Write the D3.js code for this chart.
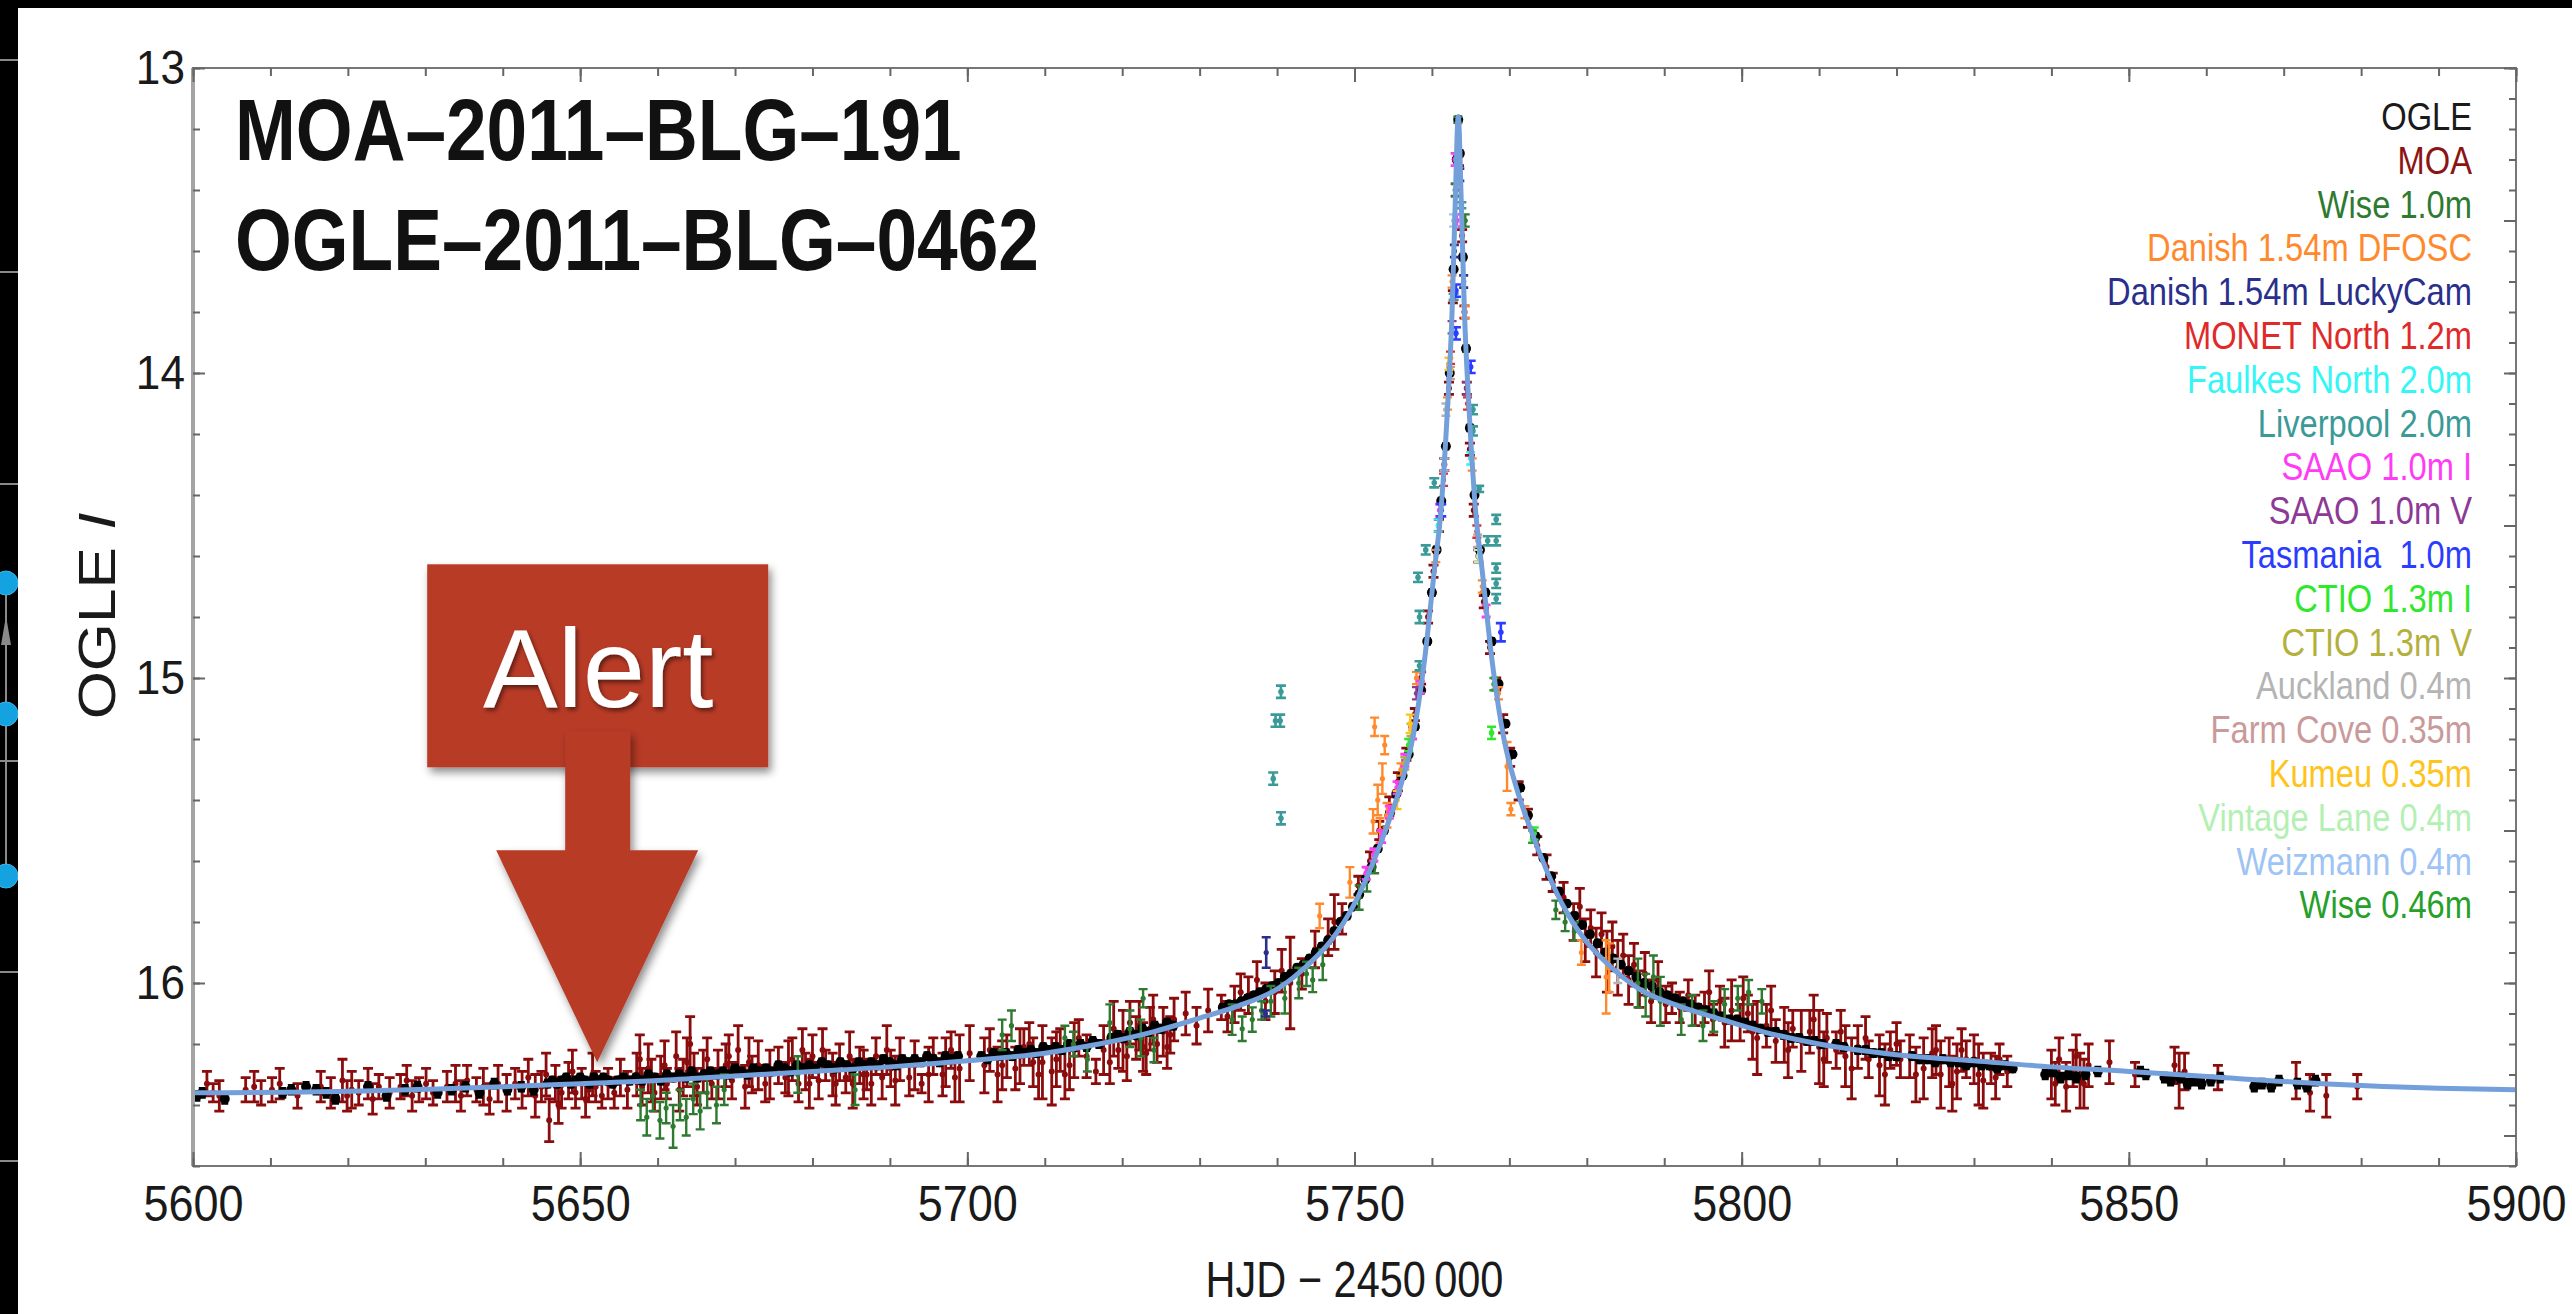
<!DOCTYPE html>
<html>
<head>
<meta charset="utf-8">
<style>
  body { margin: 0; background: #fff; }
  svg text { font-family: "Liberation Sans", Arial, sans-serif; }
</style>
</head>
<body>
<script src="https://cdnjs.cloudflare.com/ajax/libs/d3/7.8.5/d3.min.js"></script>
<script>
// ---- chart values ----
const xDomain = [5600, 5900];
const yDomain = [13, 16.6];
const xMajorTicks = [5600, 5650, 5700, 5750, 5800, 5850, 5900];
const yMajorTicks = [13, 14, 15, 16];
const titleLines = ["MOA\u20132011\u2013BLG\u2013191", "OGLE\u20132011\u2013BLG\u20130462"];
const xLabel = "HJD \u2212 2450\u2009000";

const legendNames = ["OGLE", "MOA", "Wise 1.0m", "Danish 1.54m DFOSC", "Danish 1.54m LuckyCam",
  "MONET North 1.2m", "Faulkes North 2.0m", "Liverpool 2.0m", "SAAO 1.0m I", "SAAO 1.0m V",
  "Tasmania  1.0m", "CTIO 1.3m I", "CTIO 1.3m V", "Auckland 0.4m", "Farm Cove 0.35m",
  "Kumeu 0.35m", "Vintage Lane 0.4m", "Weizmann 0.4m", "Wise 0.46m"];
const legendColors = ["#1a1a1a", "#8b1414", "#2f7a31", "#ff8a2e", "#2a2f8c",
  "#e02a2a", "#33f6f6", "#3a9a98", "#ff3cf5", "#8c3a96",
  "#2a3cff", "#2ee82e", "#b4b03c", "#b4b4b4", "#c99a9a",
  "#ffc41c", "#b4f0b4", "#9ec3f5", "#26a028"];

// alert annotation points at this (HJD, mag)
const alertPoint = [5652.2, 16.26];

// best-fit model, [HJD, mag]
const model = [[5600,16.360],[5620,16.355],[5640,16.340],[5650,16.330],[5660,16.320],[5670,16.305],
  [5680,16.290],[5690,16.275],[5700,16.255],[5710,16.230],[5717,16.200],[5724,16.160],[5730,16.115],
  [5735,16.075],[5740,16.020],[5744,15.940],[5747,15.860],[5750,15.740],[5752,15.630],[5754,15.500],
  [5756,15.350],[5757.5,15.200],[5759,14.950],[5760.3,14.650],[5761.2,14.440],[5762,14.120],
  [5762.6,13.800],[5763.0,13.450],[5763.4,13.160],[5763.8,13.450],[5764.2,13.800],[5764.8,14.120],
  [5765.6,14.440],[5766.5,14.650],[5767.8,14.950],[5769.3,15.200],[5770.8,15.350],[5772.8,15.500],
  [5774.8,15.630],[5776.8,15.740],[5779.8,15.860],[5782.8,15.940],[5786.8,16.020],[5791.8,16.075],
  [5796.8,16.115],[5802.8,16.160],[5810,16.200],[5820,16.235],[5830,16.255],[5840,16.275],
  [5850,16.290],[5862,16.310],[5875,16.330],[5890,16.345],[5900,16.350]];

// photometry, [HJD, mag, error]
const ogle = [[5600.5,16.37,.015],[5601.2,16.36,.015],[5604.1,16.38,.015],[5611.6,16.36,.015],[5612.7,16.35,.015],
  [5614.6,16.34,.015],[5615.9,16.35,.015],[5617.2,16.36,.015],[5618.4,16.38,.015],[5622.6,16.34,.015],
  [5625.0,16.37,.015],[5627.4,16.35,.015],[5629.0,16.34,.015],[5631.6,16.36,.015],[5633.4,16.35,.015],
  [5635.2,16.34,.015],[5637.0,16.36,.015],[5638.9,16.33,.015],[5640.6,16.35,.015],[5642.4,16.34,.015],
  [5644.0,16.35,.015],[5645.8,16.33,.012],[5646.4,16.32,.012],[5647.0,16.33,.012],[5647.6,16.32,.012],
  [5648.2,16.31,.012],[5648.8,16.33,.012],[5649.4,16.32,.012],[5650.0,16.31,.012],[5650.6,16.32,.012],
  [5651.2,16.33,.012],[5651.8,16.31,.012],[5652.4,16.32,.012],[5653.0,16.31,.012],[5653.6,16.32,.012],
  [5654.2,16.33,.012],[5654.8,16.32,.012],[5655.6,16.31,.012],[5656.4,16.32,.012],[5657.2,16.31,.012],
  [5658.0,16.32,.012],[5658.8,16.30,.012],[5659.6,16.31,.012],[5660.4,16.32,.012],[5661.2,16.30,.012],
  [5662.0,16.31,.012],[5662.8,16.30,.012],[5663.6,16.31,.012],[5664.4,16.29,.012],[5665.2,16.31,.012],
  [5666.0,16.30,.012],[5666.8,16.29,.012],[5667.6,16.30,.012],[5668.4,16.29,.012],[5669.2,16.30,.012],
  [5670.0,16.28,.012],[5670.8,16.29,.012],[5671.6,16.30,.012],[5672.4,16.28,.012],[5673.2,16.29,.012],
  [5674.0,16.28,.012],[5674.8,16.29,.012],[5675.6,16.27,.012],[5676.4,16.28,.012],[5677.2,16.29,.012],
  [5678.0,16.27,.012],[5678.8,16.28,.012],[5679.6,16.27,.012],[5680.4,16.28,.012],[5681.2,16.26,.012],
  [5682.0,16.27,.012],[5682.8,16.28,.012],[5683.6,16.26,.012],[5684.4,16.27,.012],[5685.2,16.28,.012],
  [5686.0,16.26,.012],[5686.8,16.27,.012],[5687.6,16.26,.012],[5688.4,16.27,.012],[5689.2,16.25,.012],
  [5690.0,16.26,.012],[5690.8,16.27,.012],[5691.6,16.25,.012],[5692.4,16.26,.012],[5693.2,16.25,.012],
  [5694.0,16.26,.012],[5694.8,16.24,.012],[5695.6,16.25,.012],[5696.4,16.26,.012],[5697.2,16.24,.012],
  [5698.0,16.25,.012],[5698.8,16.24,.012],[5701.8,16.24,.012],[5702.6,16.25,.012],[5703.4,16.23,.012],
  [5704.2,16.24,.012],[5705.0,16.23,.012],[5705.8,16.24,.012],[5706.6,16.22,.012],[5707.4,16.23,.012],
  [5708.2,16.22,.012],[5709.0,16.23,.012],[5709.8,16.21,.012],[5710.6,16.22,.012],[5711.4,16.21,.012],
  [5712.2,16.22,.012],[5713.0,16.20,.012],[5713.8,16.21,.012],[5714.6,16.20,.012],[5715.4,16.21,.012],
  [5716.2,16.19,.012],[5717.0,16.20,.012],[5718.6,16.18,.012],[5719.4,16.17,.012],[5720.2,16.18,.012],
  [5721.0,16.16,.012],[5721.8,16.17,.012],[5722.6,16.15,.012],[5723.4,16.16,.012],[5724.2,16.14,.012],
  [5725.0,16.15,.012],[5725.8,16.13,.012],[5726.6,16.14,.012],[5733.0,16.08,.01],[5733.8,16.07,.01],
  [5734.6,16.07,.01],[5735.4,16.06,.01],[5736.2,16.05,.01],[5737.0,16.04,.01],[5737.8,16.03,.01],
  [5738.6,16.02,.01],[5739.4,16.01,.01],[5740.2,16.00,.01],[5741.0,15.98,.01],[5741.8,15.97,.01],
  [5742.6,15.95,.01],[5743.4,15.94,.01],[5744.2,15.92,.01],[5745.0,15.90,.01],[5745.8,15.88,.01],
  [5746.6,15.86,.01],[5747.4,15.83,.01],[5748.2,15.80,.01],[5749.0,15.78,.01],[5749.8,15.75,.01],
  [5750.6,15.71,.01],[5751.4,15.66,.01],[5752.2,15.62,.01],[5753.0,15.56,.01],[5753.8,15.50,.01],
  [5754.6,15.44,.01],[5755.4,15.38,.01],[5756.2,15.32,.01],[5757.0,15.25,.01],[5757.8,15.16,.01],
  [5758.6,15.04,.01],[5759.4,14.88,.01],[5760.0,14.72,.01],[5760.6,14.58,.01],[5761.2,14.42,.01],
  [5761.8,14.24,.01],[5762.3,14.00,.01],[5762.8,13.66,.01],[5763.2,13.30,.01],[5763.4,13.17,.01],
  [5763.6,13.28,.01],[5764.0,13.62,.01],[5764.4,13.92,.01],[5764.9,14.18,.01],[5765.5,14.40,.01],
  [5766.2,14.58,.01],[5766.9,14.72,.01],[5767.7,14.88,.01],[5768.6,15.02,.01],[5769.5,15.15,.01],
  [5770.4,15.25,.01],[5771.4,15.36,.01],[5772.4,15.45,.01],[5773.4,15.52,.01],[5774.4,15.59,.01],
  [5775.4,15.65,.01],[5776.4,15.70,.01],[5777.4,15.74,.01],[5778.4,15.78,.01],[5779.4,15.81,.01],
  [5780.4,15.84,.01],[5781.4,15.87,.01],[5782.4,15.90,.01],[5783.4,15.92,.01],[5784.4,15.94,.01],
  [5785.4,15.96,.01],[5786.4,15.98,.01],[5787.4,16.00,.01],[5788.4,16.01,.01],[5789.4,16.03,.01],
  [5790.4,16.04,.01],[5791.4,16.05,.01],[5792.4,16.06,.01],[5793.4,16.07,.01],[5794.4,16.08,.01],
  [5795.4,16.09,.012],[5796.4,16.10,.012],[5797.4,16.11,.012],[5798.4,16.12,.012],[5799.4,16.12,.012],
  [5800.4,16.13,.012],[5801.4,16.14,.012],[5802.4,16.15,.012],[5803.4,16.16,.012],[5804.4,16.16,.012],
  [5805.4,16.17,.012],[5806.4,16.18,.012],[5807.4,16.18,.012],[5808.4,16.19,.012],[5809.4,16.19,.012],
  [5810.4,16.20,.012],[5812.2,16.20,.012],[5813.2,16.21,.012],[5815.0,16.22,.012],[5816.0,16.22,.012],
  [5817.0,16.23,.012],[5818.0,16.23,.012],[5819.0,16.24,.012],[5820.0,16.24,.012],[5822.0,16.24,.012],
  [5823.0,16.25,.012],[5824.0,16.25,.012],[5825.0,16.26,.012],[5826.0,16.25,.012],[5827.0,16.26,.012],
  [5828.0,16.26,.012],[5829.0,16.27,.012],[5830.0,16.26,.012],[5831.0,16.27,.012],[5832.0,16.27,.012],
  [5833.0,16.28,.012],[5834.0,16.27,.012],[5835.0,16.28,.012],[5839.2,16.30,.015],[5840.2,16.29,.015],
  [5841.2,16.31,.015],[5842.2,16.30,.015],[5843.2,16.31,.015],[5844.4,16.30,.015],[5846.0,16.29,.015],
  [5851.5,16.29,.015],[5852.2,16.30,.015],[5854.6,16.31,.015],[5855.4,16.32,.015],[5856.6,16.31,.015],
  [5857.6,16.33,.015],[5858.6,16.32,.015],[5859.4,16.33,.015],[5860.6,16.32,.015],[5861.8,16.31,.015],
  [5866.2,16.34,.015],[5867.2,16.33,.015],[5868.4,16.34,.015],[5869.4,16.32,.015],[5871.8,16.33,.015],
  [5873.0,16.34,.015],[5874.1,16.32,.015]];

const moa = [[5601.8,16.33,0.04],[5602.6,16.36,0.03],[5603.4,16.37,0.05],[5606.8,16.35,0.04],[5607.9,16.34,0.05],
  [5608.8,16.36,0.04],[5610.2,16.35,0.04],[5611.2,16.33,0.05],[5613.5,16.37,0.04],[5616.5,16.34,0.05],
  [5617.8,16.36,0.05],[5619.3,16.32,0.07],[5619.9,16.37,0.05],[5620.5,16.35,0.06],[5621.4,16.36,0.04],
  [5622.6,16.33,0.05],[5623.2,16.38,0.05],[5624.0,16.34,0.04],[5625.4,16.36,0.05],[5626.8,16.34,0.04],
  [5627.6,16.32,0.05],[5628.3,16.37,0.05],[5629.2,16.35,0.04],[5630.1,16.33,0.05],[5631.0,16.36,0.04],
  [5632.8,16.34,0.05],[5633.9,16.33,0.06],[5634.6,16.37,0.05],[5635.4,16.32,0.05],[5636.6,16.35,0.04],
  [5637.5,16.34,0.06],[5638.3,16.38,0.05],[5639.4,16.33,0.06],[5640.5,16.36,0.06],[5641.6,16.33,0.05],
  [5642.5,16.35,0.06],[5643.3,16.31,0.06],[5644.2,16.37,0.07],[5645.0,16.34,0.05],[5645.6,16.30,0.07],
  [5646.0,16.45,0.07],[5646.8,16.33,0.06],[5647.2,16.40,0.06],[5647.6,16.36,0.05],[5648.5,16.32,0.06],
  [5649.0,16.29,0.07],[5649.4,16.36,0.05],[5650.2,16.33,0.05],[5650.7,16.38,0.06],[5651.1,16.35,0.04],
  [5651.6,16.30,0.07],[5652.0,16.34,0.05],[5652.8,16.37,0.04],[5653.6,16.33,0.05],[5654.4,16.36,0.05],
  [5655.2,16.31,0.06],[5656.1,16.35,0.06],[5657.3,16.30,0.07],[5657.7,16.25,0.08],[5658.0,16.34,0.06],
  [5658.8,16.28,0.08],[5659.2,16.32,0.07],[5659.6,16.36,0.06],[5660.4,16.31,0.07],[5660.9,16.27,0.08],
  [5661.2,16.33,0.05],[5662.4,16.24,0.08],[5662.8,16.35,0.07],[5663.3,16.31,0.06],[5663.8,16.26,0.08],
  [5664.2,16.20,0.09],[5664.7,16.30,0.07],[5665.1,16.34,0.06],[5665.9,16.29,0.07],[5666.4,16.25,0.07],
  [5667.0,16.33,0.05],[5667.8,16.30,0.08],[5668.8,16.27,0.07],[5669.2,16.24,0.07],[5669.6,16.32,0.06],
  [5670.4,16.22,0.08],[5671.3,16.34,0.07],[5671.8,16.26,0.08],[5672.2,16.30,0.06],[5673.0,16.27,0.08],
  [5673.9,16.33,0.06],[5674.5,16.30,0.08],[5675.6,16.27,0.06],[5676.5,16.31,0.05],[5676.9,16.28,0.09],
  [5677.4,16.25,0.07],[5678.2,16.33,0.06],[5678.7,16.22,0.07],[5679.1,16.29,0.06],[5679.6,16.33,0.08],
  [5680.0,16.24,0.07],[5680.8,16.32,0.06],[5681.3,16.22,0.07],[5681.7,16.27,0.05],[5682.6,16.30,0.07],
  [5683.0,16.33,0.07],[5683.5,16.26,0.06],[5684.3,16.31,0.05],[5684.8,16.24,0.08],[5685.2,16.33,0.08],
  [5686.1,16.27,0.06],[5686.6,16.30,0.08],[5687.0,16.30,0.05],[5687.6,16.33,0.07],[5688.2,16.24,0.06],
  [5689.0,16.31,0.07],[5689.6,16.22,0.08],[5690.1,16.28,0.06],[5690.7,16.32,0.08],[5691.3,16.25,0.07],
  [5692.5,16.31,0.06],[5693.2,16.27,0.08],[5694.1,16.33,0.03],[5695.0,16.30,0.09],[5695.6,16.24,0.06],
  [5696.8,16.30,0.07],[5697.2,16.26,0.08],[5697.9,16.22,0.06],[5698.4,16.31,0.08],[5699.0,16.28,0.11],
  [5700.3,16.23,0.09],[5702.2,16.27,0.09],[5702.9,16.22,0.07],[5703.9,16.30,0.09],[5704.5,16.27,0.08],
  [5705.1,16.24,0.07],[5706.2,16.28,0.07],[5706.8,16.24,0.09],[5707.3,16.21,0.06],[5708.0,16.20,0.07],
  [5708.5,16.26,0.08],[5709.2,16.30,0.08],[5709.7,16.26,0.12],[5710.9,16.29,0.11],[5711.5,16.25,0.09],
  [5712.0,16.22,0.07],[5712.6,16.30,0.08],[5713.2,16.27,0.08],[5713.8,16.22,0.09],[5714.4,16.18,0.06],
  [5715.4,16.24,0.07],[5716.6,16.29,0.04],[5717.6,16.22,0.08],[5718.4,16.26,0.07],[5718.9,16.15,0.09],
  [5719.5,16.22,0.06],[5720.1,16.19,0.10],[5720.6,16.24,0.08],[5721.0,16.13,0.07],[5721.8,16.18,0.07],
  [5722.2,16.14,0.08],[5722.7,16.21,0.08],[5723.1,16.23,0.07],[5723.6,16.15,0.07],[5724.0,16.12,0.08],
  [5724.5,16.20,0.06],[5725.3,16.16,0.08],[5725.8,16.21,0.07],[5726.2,16.17,0.06],[5726.7,16.12,0.07],
  [5728.2,16.10,0.07],[5729.6,16.14,0.06],[5731.1,16.09,0.07],[5732.8,16.08,0.04],[5733.6,16.11,0.05],
  [5734.5,16.07,0.06],[5735.3,16.03,0.06],[5736.3,16.04,0.06],[5737.4,15.99,0.06],[5738.5,16.06,0.06],
  [5739.7,16.03,0.07],[5740.6,15.96,0.07],[5741.7,16.00,0.15],[5743.2,15.97,0.05],[5744.9,15.89,0.06],
  [5746.6,15.85,0.06],[5747.4,15.80,0.09],[5748.4,15.79,0.05],[5750.5,15.68,0.03],[5752.0,15.60,0.03],
  [5753.2,15.50,0.03],[5754.5,15.42,0.03],[5755.6,15.34,0.03],[5756.7,15.25,0.02],[5757.8,15.12,0.02],
  [5758.6,15.00,0.02],[5759.5,14.80,0.02],[5760.2,14.65,0.02],[5760.9,14.50,0.02],[5761.6,14.30,0.02],
  [5762.2,14.05,0.02],[5762.7,13.75,0.02],[5763.1,13.40,0.02],[5763.5,13.30,0.02],[5763.9,13.55,0.02],
  [5764.2,13.80,0.02],[5764.5,14.05,0.02],[5764.9,14.25,0.02],[5765.4,14.45,0.02],[5766.0,14.60,0.02],
  [5766.7,14.75,0.02],[5767.5,14.90,0.02],[5768.3,15.02,0.02],[5769.2,15.15,0.03],[5770.1,15.26,0.03],
  [5771.2,15.37,0.03],[5772.4,15.46,0.03],[5773.6,15.55,0.03],[5774.8,15.62,0.04],[5775.6,15.67,0.03],
  [5777.0,15.72,0.05],[5778.3,15.80,0.06],[5779.1,15.75,0.06],[5779.8,15.86,0.07],[5780.5,15.82,0.06],
  [5781.2,15.90,0.08],[5781.9,15.84,0.07],[5782.6,15.93,0.10],[5783.3,15.88,0.08],[5784.0,15.95,0.09],
  [5784.7,15.91,0.07],[5785.4,15.99,0.08],[5786.1,15.94,0.07],[5786.8,16.02,0.06],[5787.5,15.97,0.07],
  [5788.3,16.06,0.07],[5789.2,15.99,0.06],[5790.2,16.07,0.06],[5791.0,16.05,0.05],[5792.0,16.08,0.05],
  [5793.1,16.04,0.05],[5794.0,16.09,0.05],[5795.2,16.08,0.05],[5795.8,16.03,0.07],[5796.3,16.12,0.05],
  [5797.2,16.06,0.05],[5797.8,16.13,0.08],[5798.7,16.09,0.10],[5799.8,16.13,0.06],[5800.2,16.05,0.07],
  [5800.8,16.10,0.06],[5801.4,16.16,0.09],[5802.0,16.18,0.12],[5803.2,16.14,0.07],[5803.8,16.09,0.08],
  [5804.4,16.19,0.07],[5805.5,16.17,0.09],[5806.0,16.22,0.09],[5806.6,16.15,0.06],[5807.7,16.19,0.10],
  [5808.8,16.16,0.07],[5809.3,16.12,0.08],[5810.0,16.21,0.12],[5810.6,16.25,0.09],[5811.0,16.18,0.08],
  [5812.2,16.22,0.06],[5812.8,16.16,0.07],[5813.4,16.24,0.10],[5814.2,16.28,0.10],[5815.0,16.21,0.07],
  [5816.0,16.18,0.07],[5816.4,16.25,0.06],[5817.8,16.27,0.10],[5818.5,16.30,0.10],[5819.2,16.22,0.06],
  [5820.0,16.20,0.07],[5820.5,16.25,0.06],[5821.7,16.24,0.07],[5822.5,16.30,0.09],[5823.5,16.28,0.10],
  [5824.6,16.23,0.08],[5825.1,16.22,0.08],[5825.7,16.30,0.11],[5826.8,16.26,0.08],[5827.2,16.33,0.09],
  [5827.8,16.29,0.09],[5828.4,16.22,0.07],[5829.0,16.25,0.06],[5830.0,16.25,0.08],[5830.6,16.30,0.10],
  [5831.2,16.32,0.09],[5832.2,16.28,0.05],[5832.8,16.31,0.07],[5833.3,16.25,0.05],[5834.3,16.29,0.05],
  [5840.0,16.30,0.08],[5840.5,16.33,0.07],[5841.0,16.25,0.07],[5841.9,16.34,0.08],[5842.8,16.28,0.06],
  [5843.2,16.24,0.07],[5843.7,16.32,0.09],[5844.2,16.33,0.08],[5844.8,16.27,0.07],[5847.5,16.26,0.07],
  [5850.8,16.30,0.04],[5855.9,16.27,0.06],[5856.5,16.32,0.09],[5857.2,16.29,0.06],[5861.5,16.31,0.04],
  [5871.6,16.32,0.06],[5873.4,16.36,0.06],[5875.5,16.37,0.07],[5879.5,16.34,0.04]];

const wise10 = [[5657.8,16.40,0.05],[5658.6,16.44,0.06],[5659.4,16.37,0.05],[5660.3,16.45,0.06],[5661.1,16.41,0.05],
  [5662.0,16.47,0.07],[5662.9,16.40,0.05],[5663.7,16.44,0.06],[5664.6,16.38,0.05],[5665.5,16.42,0.06],
  [5666.4,16.36,0.05],[5667.6,16.40,0.06],[5668.6,16.35,0.05],[5678.1,16.30,0.06],[5685.5,16.35,0.05],
  [5704.5,16.17,0.05],[5705.7,16.14,0.05],[5712.6,16.18,0.04],[5713.7,16.20,0.04],[5715.5,16.25,0.04],
  [5718.4,16.13,0.06],[5721.0,16.15,0.06],[5722.4,16.18,0.06],[5722.7,16.05,0.03],[5724.1,16.22,0.04],
  [5734.2,16.12,0.05],[5735.5,16.15,0.04],[5736.8,16.12,0.04],[5738.0,16.09,0.03],[5739.2,16.06,0.05],
  [5741.0,16.05,0.05],[5742.8,16.00,0.05],[5743.8,15.97,0.04],[5744.6,15.99,0.04],[5745.9,15.94,0.05],
  [5750.6,15.72,0.04],[5751.6,15.66,0.04],[5752.6,15.60,0.04],[5763.0,13.40,0.02],[5763.35,13.17,0.01],
  [5764.3,13.50,0.02],[5776.0,15.76,0.03],[5777.2,15.80,0.03],[5778.4,15.83,0.03],[5786.6,16.00,0.08],
  [5787.6,16.04,0.07],[5788.6,15.98,0.07],[5789.5,16.06,0.08],[5792.2,16.12,0.05],[5793.6,16.09,0.05],
  [5795.0,16.14,0.05],[5796.4,16.11,0.05],[5797.8,16.07,0.05],[5799.5,16.05,0.04],[5800.9,16.03,0.04],
  [5802.6,16.06,0.04]];
const dfosc = [[5745.5,15.78,0.04],[5749.4,15.67,0.05],[5752.4,15.47,0.04],[5752.6,15.16,0.03],[5753.0,15.40,0.05],
  [5753.3,15.50,0.04],[5753.6,15.33,0.05],[5753.9,15.22,0.03],[5754.2,15.45,0.04],[5756.0,15.30,0.02],
  [5758.0,15.00,0.02],[5760.5,14.60,0.02],[5762.0,14.10,0.02],[5762.6,13.70,0.02],[5764.3,13.80,0.02],
  [5765.2,14.30,0.02],[5766.5,14.70,0.02],[5768.6,15.05,0.02],[5769.7,15.29,0.08],[5770.2,15.43,0.02],
  [5772.0,15.44,0.02],[5779.3,15.90,0.04],[5782.5,15.98,0.12],[5782.9,15.95,0.08]];
const luckyCam = [[5738.5,16.10,0.01],[5738.6,15.90,0.05],[5762.9,13.60,0.02],[5763.6,13.35,0.02],[5764.1,13.70,0.02]];
const monet = [[5761.5,14.35,0.02],[5762.4,13.95,0.02],[5764.6,14.10,0.02],[5765.8,14.52,0.02]];
const faulkes = [[5760.8,14.50,0.02],[5765.0,14.28,0.02]];
const liverpool = [[5739.5,15.33,0.02],[5739.8,15.14,0.02],[5740.4,15.14,0.02],[5740.5,15.045,0.02],[5740.5,15.46,0.02],
  [5758.2,14.67,0.015],[5758.4,14.80,0.02],[5758.4,14.96,0.015],[5759.2,14.58,0.015],[5760.3,14.36,0.015],
  [5762.8,13.75,0.01],[5763.8,13.45,0.01],[5765.3,14.12,0.015],[5765.3,14.19,0.015],[5766.1,14.38,0.01],
  [5767.2,14.55,0.015],[5768.3,14.48,0.015],[5768.3,14.55,0.015],[5768.3,14.64,0.015],[5768.3,14.69,0.015],
  [5768.3,14.74,0.015]];
const saaoI = [[5751.5,15.64,0.02],[5752.5,15.58,0.02],[5753.5,15.52,0.02],[5754.5,15.44,0.02],[5755.5,15.36,0.02],
  [5756.5,15.27,0.02],[5757.5,15.18,0.02],[5758.5,15.03,0.02],[5761.0,14.45,0.02],[5763.0,13.30,0.02],
  [5763.2,13.50,0.02],[5767.0,14.78,0.02]];
const saaoV = [[5758.0,15.05,0.02],[5762.6,13.85,0.02],[5764.5,14.05,0.02]];
const tasmania = [[5761.2,14.45,0.02],[5763.1,13.73,0.02],[5763.1,13.87,0.02],[5765.0,13.98,0.02],[5768.9,14.85,0.03]];
const ctioI = [[5757.0,15.22,0.02],[5767.7,15.18,0.02],[5773.2,15.51,0.02]];
const ctioV = [[5756.5,15.28,0.02],[5757.3,15.17,0.02]];
const auckland = [[5761.8,14.12,0.02],[5784.0,15.96,0.04]];
const farmCove = [[5762.4,14.00,0.02],[5765.9,14.55,0.02]];
const kumeu = [[5755.5,15.40,0.03],[5757.2,15.15,0.03],[5762.2,13.97,0.02]];
const vintageLane = [[5766.0,14.60,0.02]];
const weizmann = [[5761.6,14.30,0.02],[5762.8,13.50,0.02]];
const wise046 = [[5768.0,15.02,0.02],[5773.0,15.52,0.02]];

// ---- drawing ----
const W = 2572, H = 1314;
const plot = { left: 193, right: 2516, top: 68, bottom: 1166 };
const narrow = 0.83;   // the figure's lettering is horizontally condensed

const svg = d3.select("body").append("svg").attr("width", W).attr("height", H);
svg.append("rect").attr("width", W).attr("height", H).attr("fill", "#fff");

const x = d3.scaleLinear().domain(xDomain).range([plot.left, plot.right]);
const y = d3.scaleLinear().domain(yDomain).range([plot.top, plot.bottom]);

const defs = svg.append("defs");
defs.append("clipPath").attr("id", "plotClip").append("rect")
  .attr("x", plot.left).attr("y", plot.top)
  .attr("width", plot.right - plot.left).attr("height", plot.bottom - plot.top);
const shadow = defs.append("filter").attr("id", "shadow")
  .attr("x", "-20%").attr("y", "-20%").attr("width", "150%").attr("height", "150%");
shadow.append("feDropShadow").attr("dx", 3).attr("dy", 5).attr("stdDeviation", 4)
  .attr("flood-color", "#000").attr("flood-opacity", 0.45);
const textShadow = defs.append("filter").attr("id", "textShadow")
  .attr("x", "-10%").attr("y", "-10%").attr("width", "130%").attr("height", "130%");
textShadow.append("feDropShadow").attr("dx", 2).attr("dy", 3).attr("stdDeviation", 2)
  .attr("flood-color", "#000").attr("flood-opacity", 0.5);

// slide chrome on the left / top edge
svg.append("rect").attr("x", 0).attr("y", 0).attr("width", 18).attr("height", H).attr("fill", "#000");
svg.append("rect").attr("x", 0).attr("y", 0).attr("width", W).attr("height", 8).attr("fill", "#000");
svg.selectAll("line.chrome").data([60, 272, 484, 761, 972, 1161]).join("line")
  .attr("x1", 0).attr("x2", 18).attr("y1", d => d).attr("y2", d => d)
  .attr("stroke", "#8a8a8a").attr("stroke-width", 2);
svg.append("line").attr("x1", 6).attr("x2", 6).attr("y1", 583).attr("y2", 876)
  .attr("stroke", "#8a8a8a").attr("stroke-width", 2);
svg.append("path").attr("d", "M1,645 L6,616 L11,645 Z").attr("fill", "#8a8a8a");
svg.selectAll("ellipse.knob").data([583, 714, 876]).join("ellipse")
  .attr("cx", 6).attr("cy", d => d).attr("rx", 12).attr("ry", 12)
  .attr("fill", "#14a3e0").attr("stroke", "#39b8ee").attr("stroke-width", 1);
svg.append("rect").attr("x", 18).attr("y", 8).attr("width", 2).attr("height", H).attr("fill", "#fff");

// data
const dataG = svg.append("g").attr("clip-path", "url(#plotClip)");

function drawSeries(data, color, r, cap, sw) {
  const g = dataG.append("g");
  let p = "";
  data.forEach(d => {
    const cx = x(d[0]), y1 = y(d[1] - d[2]), y2 = y(d[1] + d[2]);
    p += `M${cx},${y1}V${y2}M${cx - cap},${y1}H${cx + cap}M${cx - cap},${y2}H${cx + cap}`;
  });
  g.append("path").attr("d", p).attr("fill", "none").attr("stroke", color).attr("stroke-width", sw);
  g.selectAll("circle").data(data).join("circle")
    .attr("cx", d => x(d[0])).attr("cy", d => y(d[1])).attr("r", r).attr("fill", color);
}

drawSeries(moa, "#8a0c0c", 3, 5, 2.8);
drawSeries(ogle, "#000", 5, 3.5, 2.5);
drawSeries(wise10, "#2f7a31", 2.6, 4.5, 2.4);
drawSeries(dfosc, "#ff8a2e", 2.6, 4.5, 2.4);
drawSeries(luckyCam, "#2a2f8c", 2.6, 4.5, 2.6);
drawSeries(monet, "#e02a2a", 2.6, 4.5, 2.4);
drawSeries(faulkes, "#33f6f6", 2.6, 4.5, 2.4);
drawSeries(liverpool, "#3a9a98", 2.8, 5, 2.6);
drawSeries(saaoI, "#ff3cf5", 2.8, 4.5, 2.8);
drawSeries(saaoV, "#8c3a96", 2.6, 4.5, 2.4);
drawSeries(tasmania, "#2a3cff", 2.8, 5, 2.6);
drawSeries(ctioI, "#2ee82e", 2.8, 4.5, 2.4);
drawSeries(ctioV, "#b4b03c", 2.8, 4.5, 2.4);
drawSeries(auckland, "#b4b4b4", 2.6, 4.5, 2.4);
drawSeries(farmCove, "#c99a9a", 2.6, 4.5, 2.4);
drawSeries(kumeu, "#ffc41c", 2.8, 4.5, 2.4);
drawSeries(vintageLane, "#b4f0b4", 2.6, 4.5, 2.4);
drawSeries(weizmann, "#9ec3f5", 2.6, 4.5, 2.4);
drawSeries(wise046, "#26a028", 2.6, 4.5, 2.4);

// model
dataG.append("path").datum(model)
  .attr("d", d3.line().x(d => x(d[0])).y(d => y(d[1])).curve(d3.curveMonotoneX))
  .attr("fill", "none").attr("stroke", "#739fdb").attr("stroke-width", 5);

// frame and ticks
svg.append("rect").attr("x", plot.left).attr("y", plot.top)
  .attr("width", plot.right - plot.left).attr("height", plot.bottom - plot.top)
  .attr("fill", "none").attr("stroke", "#777").attr("stroke-width", 2);
svg.append("line").attr("x1", plot.left).attr("x2", plot.left).attr("y1", plot.top).attr("y2", plot.bottom)
  .attr("stroke", "#a4a4a4").attr("stroke-width", 4);

function styleAxis(g, size) {
  g.select(".domain").remove();
  g.selectAll(".tick line").attr("stroke", "#666").attr("stroke-width", 2);
  g.attr("font-family", null).attr("font-size", size);
  g.selectAll(".tick text").attr("fill", "#1a1a1a").attr("transform", "scale(0.9,1)");
}

const xMinor = x.ticks(30), yMinor2 = y.ticks(18), yMinor1 = y.ticks(36);
const yHalf = yMinor1.filter(v => Math.abs(v * 2 - Math.round(v * 2)) < 1e-6);

svg.append("g").attr("transform", `translate(0,${plot.bottom})`)
  .call(d3.axisBottom(x).tickValues(xMinor).tickSize(-8).tickFormat(""))
  .call(g => styleAxis(g, 10));
svg.append("g").attr("transform", `translate(0,${plot.bottom})`)
  .call(d3.axisBottom(x).tickValues(xMajorTicks).tickSize(-14).tickPadding(20).tickFormat(d3.format("d")))
  .call(g => styleAxis(g, 50));
svg.append("g").attr("transform", `translate(0,${plot.top})`)
  .call(d3.axisTop(x).tickValues(xMinor).tickSize(-8).tickFormat(""))
  .call(g => styleAxis(g, 10));
svg.append("g").attr("transform", `translate(0,${plot.top})`)
  .call(d3.axisTop(x).tickValues(xMajorTicks).tickSize(-14).tickFormat(""))
  .call(g => styleAxis(g, 10));
svg.append("g").attr("transform", `translate(${plot.left},0)`)
  .call(d3.axisLeft(y).tickValues(yMinor2).tickSize(-7).tickFormat(""))
  .call(g => styleAxis(g, 10));
svg.append("g").attr("transform", `translate(${plot.left},0)`)
  .call(d3.axisLeft(y).tickValues(yMajorTicks).tickSize(-12).tickPadding(9).tickFormat(d3.format("d")))
  .call(g => styleAxis(g, 49));
svg.append("g").attr("transform", `translate(${plot.right},0)`)
  .call(d3.axisRight(y).tickValues(yMinor1).tickSize(-7).tickFormat(""))
  .call(g => styleAxis(g, 10));
svg.append("g").attr("transform", `translate(${plot.right},0)`)
  .call(d3.axisRight(y).tickValues(yHalf).tickSize(-12).tickFormat(""))
  .call(g => styleAxis(g, 10));

// axis titles
svg.append("text")
  .attr("transform", `translate(${(plot.left + plot.right) / 2},1297) scale(${narrow},1)`)
  .attr("text-anchor", "middle").attr("font-size", 50).attr("fill", "#1a1a1a").text(xLabel);
const yl = svg.append("text").attr("transform", `translate(115,616) rotate(-90) scale(1,${narrow})`)
  .attr("text-anchor", "middle").attr("font-size", 62).attr("fill", "#1a1a1a");
yl.append("tspan").text("OGLE ");
yl.append("tspan").attr("font-style", "italic").text("I");

// title
svg.selectAll("text.title").data(titleLines).join("text")
  .attr("transform", (d, i) => `translate(235,${160 + i * 110}) scale(${narrow},1)`)
  .attr("font-size", 88).attr("font-weight", "bold").attr("fill", "#111").text(d => d);

// legend
svg.selectAll("text.legend").data(legendNames).join("text")
  .attr("transform", (d, i) => `translate(2472,${130 + i * 43.8}) scale(0.86,1)`)
  .attr("text-anchor", "end").attr("font-size", 38)
  .style("white-space", "pre")
  .attr("fill", (d, i) => legendColors[i]).text(d => d);

// alert annotation
const ax = x(alertPoint[0]), ay = y(alertPoint[1]);
const alertG = svg.append("g");
alertG.append("rect").attr("x", ax - 170).attr("y", ay - 498).attr("width", 341).attr("height", 203)
  .attr("fill", "#b83a28").attr("filter", "url(#shadow)");
alertG.append("path")
  .attr("d", `M${ax - 32},${ay - 331} H${ax + 33} V${ay - 212} H${ax + 101} L${ax},${ay} L${ax - 101},${ay - 212} H${ax - 32} Z`)
  .attr("fill", "#b83a28").attr("filter", "url(#shadow)");
alertG.append("text").attr("x", ax + 1).attr("y", ay - 355).attr("text-anchor", "middle")
  .attr("font-size", 112).attr("fill", "#fff").attr("filter", "url(#textShadow)")
  .text("Alert");
</script>
</body>
</html>
